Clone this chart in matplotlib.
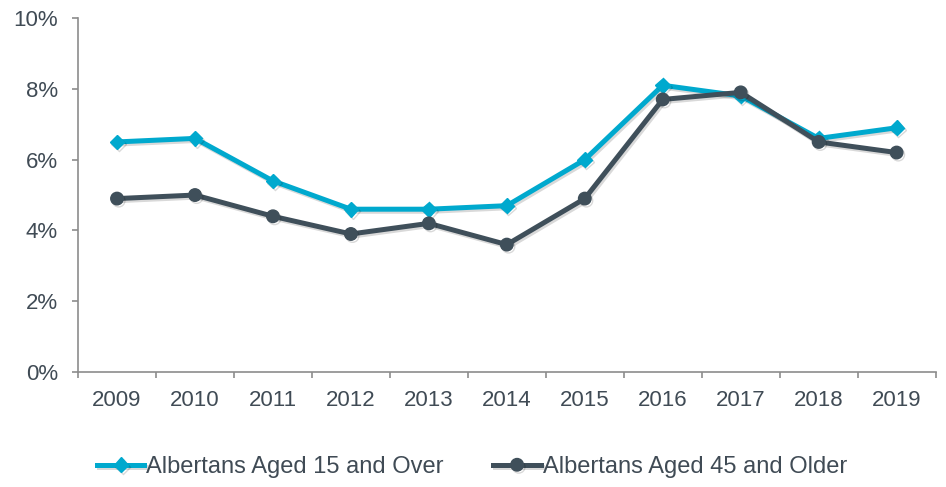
import matplotlib
matplotlib.use('Agg')
import matplotlib.pyplot as plt
import matplotlib.patheffects as pe
import numpy as np

years = ['2009', '2010', '2011', '2012', '2013', '2014', '2015', '2016', '2017', '2018', '2019']
aged_15_over = [6.5, 6.6, 5.4, 4.6, 4.6, 4.7, 6.0, 8.1, 7.8, 6.6, 6.9]
aged_45_older = [4.9, 5.0, 4.4, 3.9, 4.2, 3.6, 4.9, 7.7, 7.9, 6.5, 6.2]

plt.rcParams['font.family'] = ['Liberation Sans', 'DejaVu Sans']

text_color = '#404b55'
axis_color = '#8c8c8c'
# soft drop shadow under the lines, like the original
shadow = [pe.SimpleLineShadow(offset=(1.2, -1.5), alpha=0.15, shadow_color='black'), pe.Normal()]

fig = plt.figure(figsize=(9.46, 4.87), dpi=100)
ax = fig.add_axes([0.0825, 0.236, 0.9065, 0.727])

x = np.arange(len(years))
ax.plot(x, aged_15_over, color='#00a9ce', lw=3.6, marker='D', ms=7.5,
        label='Albertans Aged 15 and Over', path_effects=shadow)
ax.plot(x, aged_45_older, color='#3f4f5a', lw=3.6, marker='o', ms=9,
        label='Albertans Aged 45 and Older', path_effects=shadow)

ax.set_xlim(-0.5, len(years) - 0.5)
ax.set_ylim(0, 10)
ax.set_yticks(range(0, 11, 2))
ax.set_yticklabels([f'{v}%' for v in range(0, 11, 2)])
ax.set_xticks(x)
ax.set_xticklabels(years)
ax.set_xticks(np.arange(-0.5, len(years)), minor=True)
ax.tick_params(axis='x', which='major', length=0, pad=13)
ax.tick_params(axis='x', which='minor', length=4.5, color=axis_color, width=1.2)
ax.tick_params(axis='y', length=4.5, color=axis_color, width=1.2, pad=10)
ax.tick_params(labelsize=16, labelcolor=text_color)

for side in ['top', 'right']:
    ax.spines[side].set_visible(False)
for side in ['left', 'bottom']:
    ax.spines[side].set_color(axis_color)
    ax.spines[side].set_linewidth(1.2)

fig.legend(loc='center', bbox_to_anchor=(0.499, 0.041), ncol=2, frameon=False,
           fontsize=17, labelcolor=text_color, handlelength=2.0,
           handletextpad=0.08, columnspacing=2.1)

fig.savefig('out.png', dpi=100)
